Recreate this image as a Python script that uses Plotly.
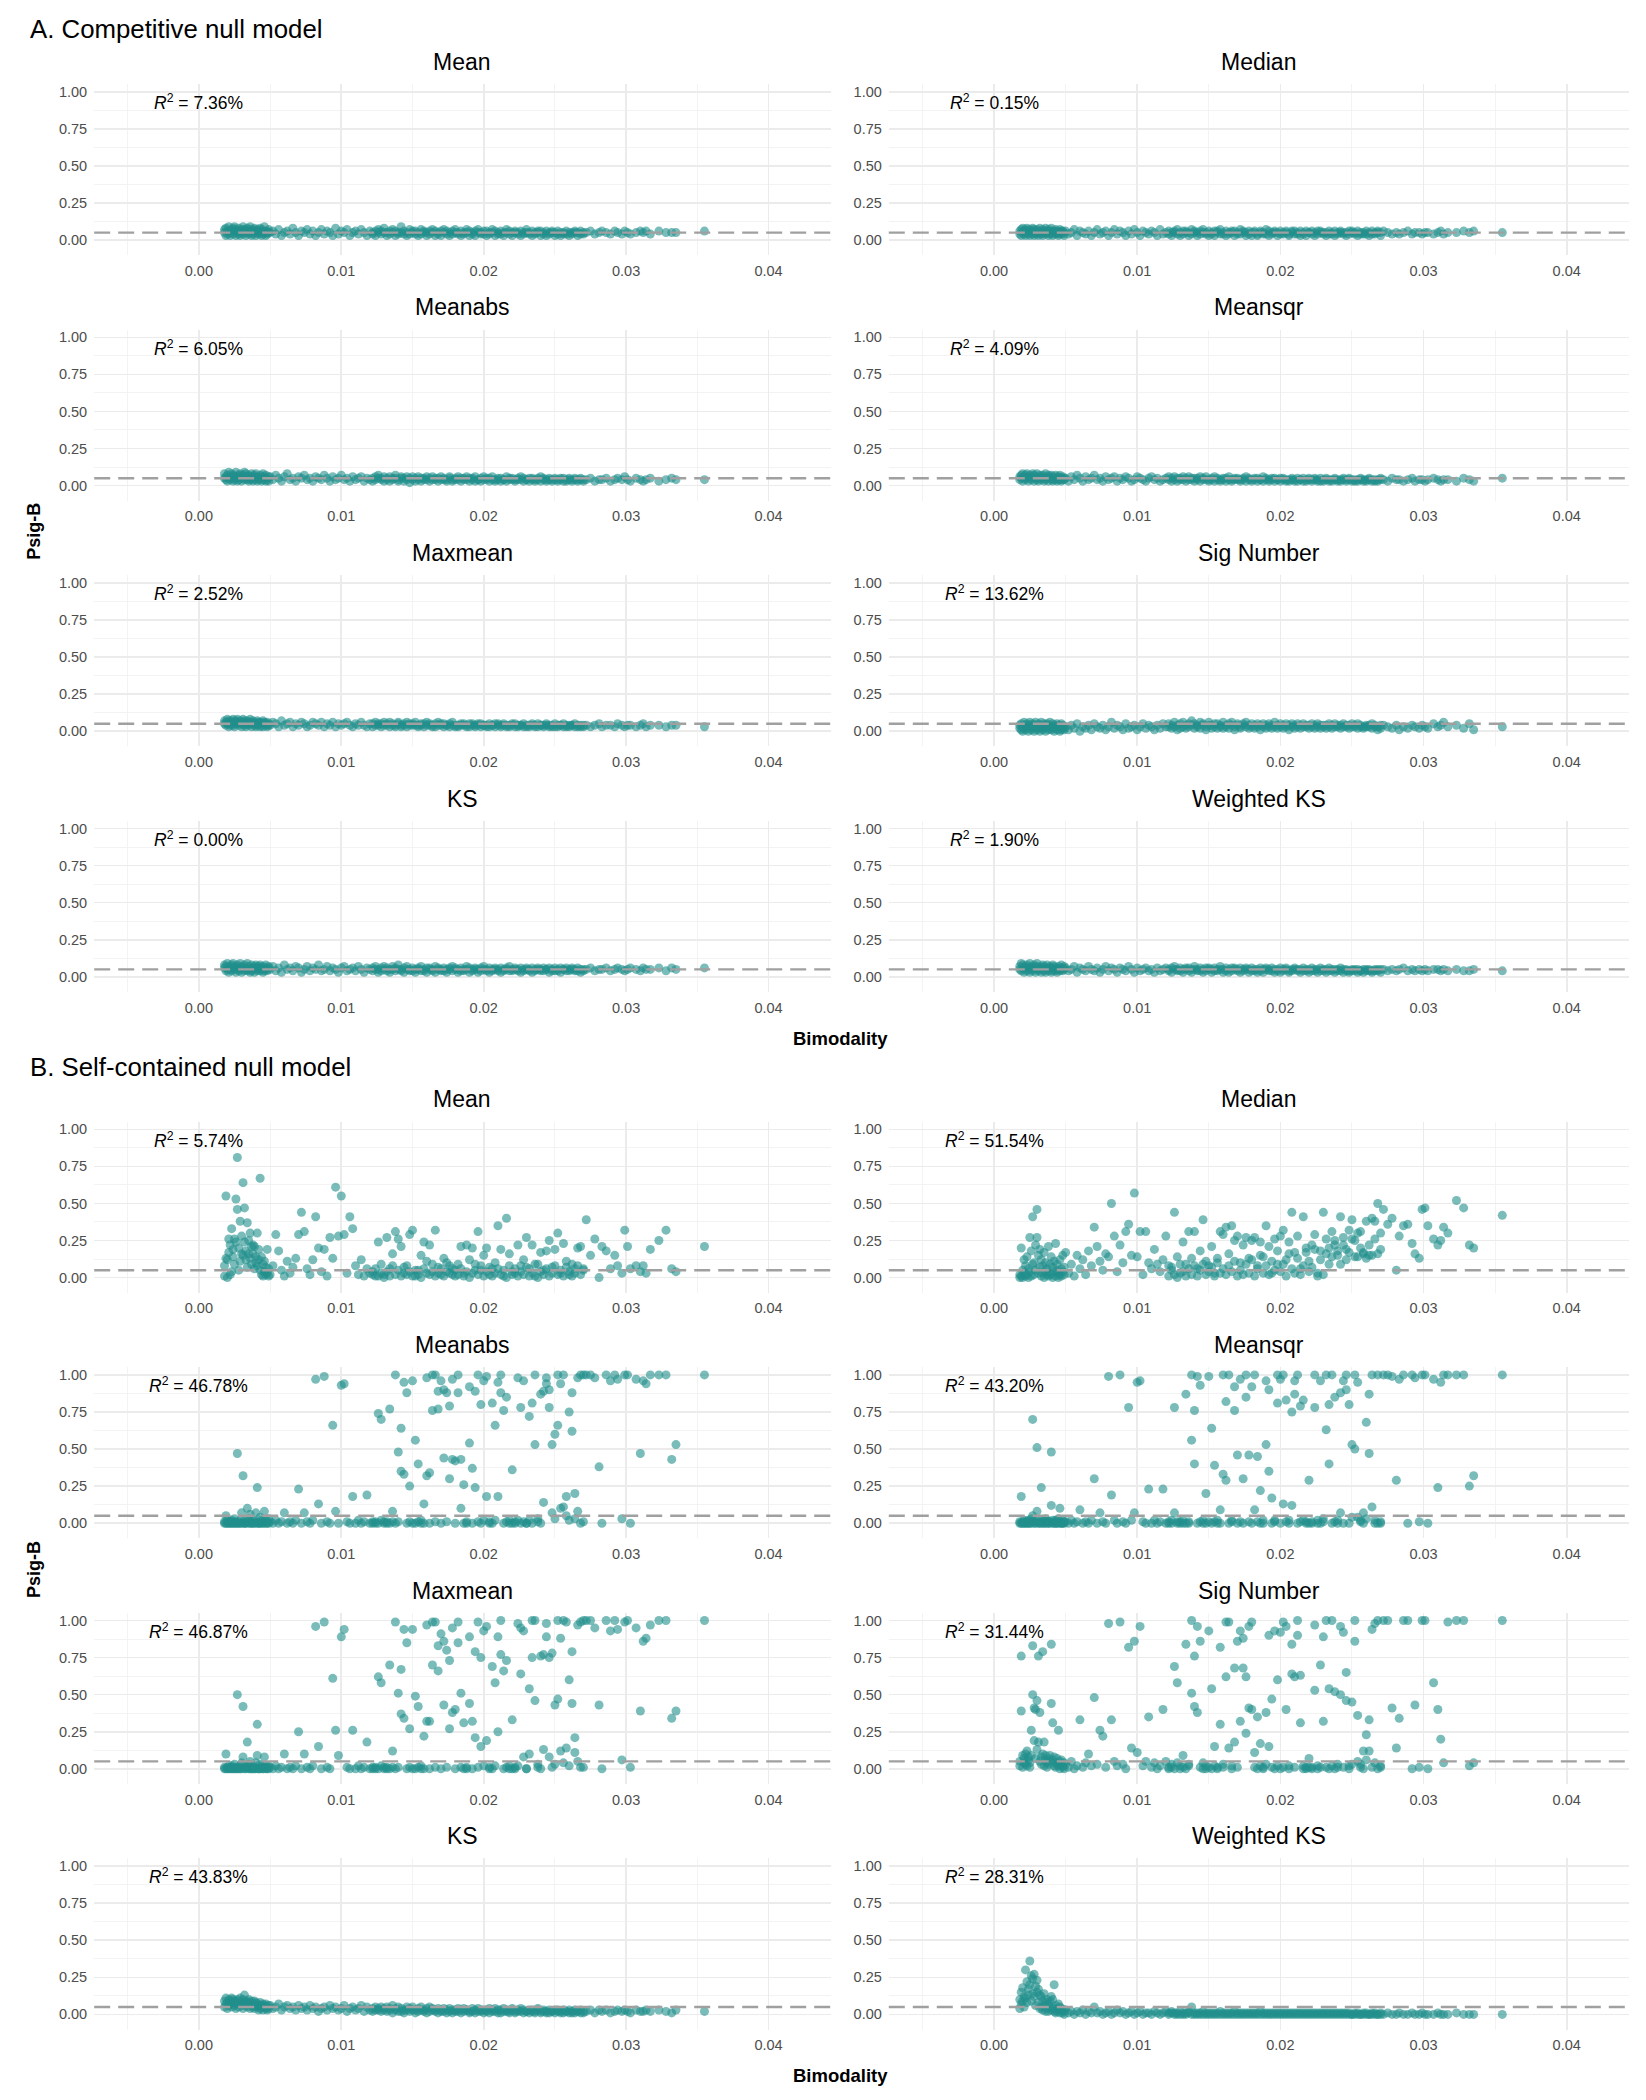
import sys
import plotly.graph_objects as go

# ---------------- DATA ----------------
# Bimodality of each gene set, in units of 1e-3 (shared by all panels)
bimodality_permille = [
    1.8, 1.8, 1.9, 1.9, 2.0, 2.0, 2.1, 2.1, 2.2, 2.2,
    2.3, 2.3, 2.4, 2.4, 2.5, 2.5, 2.6, 2.6, 2.7, 2.7,
    2.8, 2.8, 2.9, 2.9, 3.0, 3.0, 3.1, 3.1, 3.2, 3.2,
    3.3, 3.3, 3.4, 3.4, 3.5, 3.5, 3.6, 3.6, 3.7, 3.7,
    3.8, 3.8, 3.9, 3.9, 4.0, 4.0, 4.1, 4.1, 4.2, 4.2,
    4.3, 4.3, 4.4, 4.4, 4.5, 4.5, 4.6, 4.6, 4.7, 4.7,
    4.8, 4.8, 4.9, 4.9,
    5.0, 5.2, 5.4, 5.6, 5.8, 6.0, 6.2, 6.4, 6.6, 6.8,
    7.0, 7.2, 7.4, 7.6, 7.8, 8.0, 8.2, 8.4, 8.6, 8.8,
    9.0, 9.2, 9.4, 9.6, 9.8, 10.0, 10.2, 10.4, 10.6, 10.8,
    11.0, 11.2, 11.4, 11.6, 11.8, 12.0,
    12.2, 12.2, 12.4, 12.4, 12.6, 12.6, 12.8, 12.8, 13.0, 13.0,
    13.2, 13.2, 13.4, 13.4, 13.6, 13.6, 13.8, 13.8, 14.0, 14.0,
    14.2, 14.2, 14.4, 14.4, 14.6, 14.6, 14.8, 14.8, 15.0, 15.0,
    15.2, 15.2, 15.4, 15.4, 15.6, 15.6, 15.8, 15.8, 16.0, 16.0,
    16.2, 16.2, 16.4, 16.4, 16.6, 16.6, 16.8, 16.8, 17.0, 17.0,
    17.2, 17.2, 17.4, 17.4, 17.6, 17.6, 17.8, 17.8, 18.0, 18.0,
    18.2, 18.2, 18.4, 18.4, 18.6, 18.6, 18.8, 18.8, 19.0, 19.0,
    19.2, 19.2, 19.4, 19.4, 19.6, 19.6, 19.8, 19.8, 20.0, 20.0,
    20.2, 20.2, 20.4, 20.4, 20.6, 20.6, 20.8, 20.8, 21.0, 21.0,
    21.2, 21.2, 21.4, 21.4, 21.6, 21.6, 21.8, 21.8, 22.0, 22.0,
    22.2, 22.2, 22.4, 22.4, 22.6, 22.6, 22.8, 22.8, 23.0, 23.0,
    23.2, 23.2, 23.4, 23.4, 23.6, 23.6, 23.8, 23.8, 24.0, 24.0,
    24.2, 24.2, 24.4, 24.4, 24.6, 24.6, 24.8, 24.8, 25.0, 25.0,
    25.2, 25.2, 25.4, 25.4, 25.6, 25.6, 25.8, 25.8, 26.0, 26.0,
    26.2, 26.2, 26.4, 26.4, 26.6, 26.6, 26.8, 26.8, 27.0, 27.0,
    27.2, 27.5, 27.8, 28.1, 28.3, 28.6, 28.9, 29.2, 29.4, 29.7,
    29.9, 30.1, 30.3, 30.7, 31.0, 31.2, 31.4, 31.7, 32.3, 32.8,
    33.2, 33.5, 35.5,
]

# Psig-B values, in percent, one list per panel
# ----- A. Competitive null model -----
psig_A_mean = [
    5, 7, 3, 8, 6, 4, 9, 5, 6, 3,
    7, 5, 8, 4, 6, 9, 3, 7, 5, 6,
    4, 8, 6, 3, 7, 5, 9, 4, 6, 7,
    5, 3, 8, 6, 4, 7, 5, 9, 6, 3,
    7, 4, 6, 8, 5, 3, 7, 6, 4, 5,
    8, 6, 3, 7, 5, 4, 6, 9, 5, 3,
    6, 4, 7, 5,
    5, 6, 4, 7, 3, 5, 6, 4, 8, 5,
    3, 6, 5, 7, 4, 6, 3, 5, 7, 4,
    6, 5, 3, 8, 4, 6, 5, 7, 3, 5,
    6, 4, 7, 5, 3, 6,
    5, 4, 6, 3, 7, 5, 4, 6, 5, 8,
    3, 5, 6, 4, 5, 7, 3, 6, 4, 5,
    9, 5, 4, 6, 3, 5, 7, 4, 6, 5,
    4, 6, 3, 5, 7, 4, 5, 6, 3, 5,
    6, 4, 5, 7, 3, 6, 4, 5, 6, 3,
    5, 7, 4, 6, 5, 3, 6, 4, 7, 5,
    4, 5, 3, 6, 5, 4, 7, 5, 3, 6,
    5, 4, 6, 3, 5, 7, 4, 5, 6, 4,
    3, 6, 5, 4, 7, 5, 3, 6, 4, 5,
    6, 4, 5, 3, 7, 5, 4, 6, 5, 3,
    5, 6, 4, 5, 3, 6, 5, 4, 7, 5,
    4, 5, 6, 3, 5, 4, 6, 5, 3, 6,
    5, 4, 3, 6, 5, 4, 5, 6, 3, 5,
    4, 6, 5, 3, 4, 5, 6, 4, 5, 3,
    5, 4, 6, 5, 3, 5, 4, 6, 5, 4,
    5, 6, 4, 5, 6, 5, 4, 6, 5, 4,
    6, 5, 4, 5, 6, 5, 6, 4, 6, 5,
    5, 5, 6,
]
psig_A_median = [
    6, 4, 7, 3, 5, 8, 4, 6, 3, 7,
    5, 8, 4, 6, 7, 3, 5, 6, 4, 8,
    7, 3, 5, 6, 4, 7, 5, 3, 8, 6,
    4, 5, 7, 3, 6, 5, 8, 4, 5, 6,
    3, 7, 5, 4, 6, 8, 5, 3, 6, 4,
    7, 5, 4, 6, 3, 5, 7, 4, 6, 5,
    4, 6, 5, 3,
    6, 4, 5, 7, 3, 6, 5, 4, 6, 3,
    5, 7, 4, 5, 6, 3, 5, 7, 4, 6,
    5, 3, 6, 4, 7, 5, 3, 6, 5, 4,
    6, 5, 3, 7, 4, 5,
    4, 6, 5, 3, 6, 5, 4, 7, 5, 3,
    6, 4, 5, 6, 3, 5, 7, 4, 5, 6,
    3, 5, 4, 6, 5, 7, 4, 5, 3, 6,
    5, 4, 6, 3, 5, 6, 4, 7, 5, 4,
    6, 3, 5, 4, 6, 5, 3, 6, 4, 5,
    7, 4, 5, 6, 3, 5, 4, 6, 5, 3,
    6, 5, 4, 3, 6, 5, 4, 5, 7, 4,
    3, 6, 5, 4, 5, 6, 3, 5, 4, 6,
    5, 4, 6, 5, 3, 4, 6, 5, 4, 6,
    4, 5, 3, 6, 5, 4, 6, 3, 5, 5,
    6, 4, 5, 3, 6, 4, 5, 6, 4, 5,
    3, 5, 4, 6, 5, 4, 3, 6, 5, 4,
    5, 6, 4, 5, 3, 5, 6, 4, 5, 6,
    4, 5, 3, 6, 4, 5, 5, 4, 6, 4,
    5, 3, 6, 4, 5, 4, 6, 5, 3, 5,
    6, 5, 4, 5, 4, 5, 6, 4, 5, 5,
    4, 5, 5, 4, 5, 6, 4, 5, 5, 6,
    5, 6, 5,
]
psig_A_meanabs = [
    5, 8, 4, 6, 7, 3, 9, 5, 6, 4,
    8, 5, 3, 7, 6, 4, 9, 6, 5, 3,
    7, 4, 8, 6, 5, 3, 7, 5, 9, 4,
    6, 8, 4, 5, 3, 7, 6, 4, 8, 5,
    3, 6, 7, 4, 5, 8, 3, 6, 5, 4,
    7, 5, 3, 6, 8, 4, 5, 6, 3, 7,
    5, 4, 6, 3,
    6, 4, 7, 5, 3, 6, 8, 4, 5, 3,
    6, 5, 7, 4, 5, 3, 6, 5, 4, 7,
    5, 3, 6, 4, 5, 7, 4, 5, 3, 6,
    4, 5, 6, 3, 5, 4,
    5, 3, 6, 4, 5, 7, 4, 5, 3, 6,
    4, 5, 6, 3, 5, 4, 7, 5, 3, 4,
    6, 5, 3, 5, 4, 6, 2, 5, 4, 6,
    3, 5, 4, 6, 5, 3, 4, 5, 6, 4,
    5, 3, 4, 6, 5, 4, 3, 5, 4, 6,
    4, 5, 3, 4, 6, 5, 4, 3, 5, 4,
    6, 4, 5, 3, 4, 5, 6, 4, 3, 5,
    4, 5, 3, 6, 4, 4, 5, 3, 4, 6,
    5, 4, 3, 5, 4, 6, 4, 3, 5, 4,
    3, 5, 4, 4, 6, 3, 5, 4, 4, 5,
    4, 3, 5, 4, 6, 4, 3, 5, 4, 4,
    5, 3, 4, 5, 4, 3, 5, 4, 6, 3,
    4, 5, 3, 4, 4, 5, 3, 4, 5, 4,
    3, 4, 5, 4, 3, 5, 4, 3, 4, 5,
    4, 3, 5, 4, 4, 3, 5, 4, 3, 4,
    4, 5, 3, 4, 4, 5, 3, 4, 5, 4,
    6, 4, 3, 5, 4, 3, 4, 5, 3, 4,
    5, 4, 4,
]
psig_A_meansqr = [
    6, 4, 7, 5, 8, 3, 6, 5, 4, 7,
    5, 8, 6, 3, 7, 5, 4, 6, 8, 5,
    3, 7, 5, 6, 4, 8, 5, 3, 6, 7,
    4, 5, 7, 6, 3, 5, 8, 4, 6, 5,
    7, 3, 5, 6, 4, 7, 5, 3, 6, 4,
    5, 7, 4, 3, 6, 5, 4, 7, 5, 3,
    6, 4, 5, 4,
    5, 3, 6, 4, 7, 5, 3, 6, 4, 5,
    7, 4, 5, 3, 6, 4, 5, 6, 3, 5,
    4, 6, 5, 3, 4, 6, 5, 4, 3, 5,
    6, 4, 5, 3, 4, 5,
    4, 6, 3, 5, 4, 6, 5, 3, 4, 5,
    6, 4, 3, 5, 4, 6, 5, 4, 3, 5,
    4, 5, 6, 3, 4, 5, 4, 6, 3, 4,
    5, 4, 3, 6, 4, 5, 3, 4, 5, 4,
    3, 5, 4, 6, 4, 3, 5, 4, 4, 5,
    3, 4, 5, 4, 6, 3, 4, 5, 4, 3,
    5, 4, 3, 5, 4, 4, 6, 3, 4, 5,
    4, 3, 5, 4, 3, 5, 4, 4, 3, 5,
    4, 5, 3, 4, 4, 3, 5, 4, 3, 4,
    5, 3, 4, 4, 3, 5, 4, 3, 4, 5,
    3, 4, 4, 5, 3, 4, 3, 5, 4, 3,
    4, 5, 3, 4, 4, 3, 5, 4, 3, 4,
    4, 3, 5, 4, 3, 4, 4, 5, 3, 4,
    3, 4, 4, 3, 5, 4, 3, 4, 4, 3,
    4, 5, 3, 4, 3, 4, 4, 3, 5, 4,
    4, 3, 5, 4, 4, 3, 4, 5, 3, 4,
    4, 3, 4, 5, 4, 3, 4, 4, 3, 5,
    4, 3, 5,
]
psig_A_maxmean = [
    5, 7, 4, 6, 8, 5, 3, 7, 6, 4,
    7, 5, 8, 4, 6, 3, 7, 5, 6, 8,
    4, 6, 5, 7, 3, 6, 8, 5, 4, 7,
    6, 3, 5, 7, 4, 6, 5, 8, 3, 6,
    5, 7, 4, 6, 3, 5, 7, 4, 6, 5,
    3, 6, 5, 4, 7, 3, 5, 6, 4, 5,
    6, 3, 5, 4,
    4, 6, 5, 3, 7, 4, 5, 6, 3, 5,
    4, 6, 5, 3, 4, 6, 5, 4, 6, 3,
    5, 4, 6, 3, 5, 4, 5, 6, 4, 3,
    5, 4, 6, 4, 3, 5,
    5, 3, 4, 6, 4, 5, 3, 5, 6, 4,
    4, 5, 3, 6, 4, 5, 4, 3, 5, 6,
    3, 4, 5, 4, 6, 3, 5, 4, 4, 5,
    4, 6, 3, 4, 5, 4, 3, 5, 4, 6,
    5, 4, 3, 4, 5, 3, 6, 4, 4, 5,
    3, 5, 4, 4, 3, 5, 4, 6, 3, 4,
    4, 3, 5, 4, 4, 5, 3, 4, 5, 3,
    5, 4, 3, 4, 5, 4, 3, 5, 4, 4,
    3, 4, 5, 3, 4, 4, 5, 3, 4, 5,
    4, 3, 4, 5, 3, 4, 4, 3, 5, 4,
    3, 5, 4, 3, 4, 4, 3, 5, 4, 3,
    4, 3, 5, 4, 3, 4, 5, 3, 4, 4,
    3, 4, 4, 5, 3, 4, 3, 4, 5, 3,
    4, 3, 4, 4, 3, 5, 4, 3, 4, 3,
    4, 4, 3, 5, 3, 4, 3, 4, 4, 3,
    4, 3, 4, 5, 3, 4, 4, 3, 5, 4,
    3, 4, 4, 3, 4, 5, 3, 4, 4, 3,
    4, 4, 3,
]
psig_A_signum = [
    2, 4, 1, 5, 3, 0, 6, 2, 4, 1,
    3, 5, 2, 0, 4, 6, 1, 3, 5, 2,
    0, 4, 3, 6, 1, 2, 5, 3, 0, 4,
    2, 6, 1, 3, 5, 2, 4, 0, 3, 5,
    1, 4, 2, 6, 3, 1, 5, 2, 4, 0,
    3, 2, 5, 1, 4, 3, 0, 2, 5, 1,
    3, 4, 2, 1,
    3, 1, 4, 2, 5, 0, 3, 2, 4, 1,
    5, 3, 2, 4, 1, 3, 6, 2, 4, 3,
    1, 5, 2, 3, 4, 1, 3, 5, 2, 4,
    3, 1, 4, 2, 5, 3,
    3, 5, 2, 4, 6, 3, 1, 4, 5, 2,
    3, 6, 4, 2, 5, 3, 7, 4, 2, 5,
    3, 4, 6, 2, 4, 5, 3, 1, 4, 6,
    2, 4, 5, 3, 2, 5, 4, 3, 6, 2,
    4, 3, 5, 2, 4, 6, 3, 1, 4, 5,
    3, 2, 5, 4, 3, 6, 2, 4, 3, 5,
    2, 4, 3, 5, 1, 4, 3, 5, 2, 4,
    3, 5, 2, 4, 3, 6, 2, 4, 5, 3,
    4, 2, 5, 3, 1, 4, 3, 5, 2, 4,
    3, 5, 4, 2, 3, 5, 4, 3, 2, 4,
    5, 3, 2, 4, 3, 5, 2, 4, 3, 4,
    2, 4, 5, 3, 4, 2, 3, 5, 4, 3,
    4, 2, 3, 5, 4, 3, 2, 4, 3, 5,
    3, 4, 2, 5, 3, 4, 3, 2, 4, 3,
    4, 3, 5, 2, 3, 4, 1, 3, 4, 2,
    4, 3, 2, 4, 1, 3, 2, 4, 3, 2,
    4, 3, 2, 5, 3, 4, 6, 3, 4, 2,
    5, 1, 3,
]
psig_A_ks = [
    6, 8, 4, 7, 5, 9, 3, 6, 7, 5,
    8, 4, 6, 9, 5, 7, 3, 6, 8, 5,
    4, 7, 6, 9, 5, 3, 7, 6, 4, 8,
    5, 6, 9, 4, 7, 5, 3, 6, 8, 4,
    6, 5, 7, 3, 8, 6, 4, 5, 7, 6,
    4, 8, 5, 6, 3, 7, 5, 4, 6, 8,
    5, 4, 7, 6,
    5, 7, 4, 6, 3, 8, 5, 6, 4, 7,
    6, 3, 5, 7, 4, 6, 5, 8, 4, 5,
    7, 4, 6, 5, 3, 6, 7, 4, 5, 6,
    4, 7, 5, 3, 6, 5,
    6, 4, 5, 7, 3, 5, 6, 4, 7, 5,
    4, 6, 5, 3, 7, 5, 4, 6, 5, 8,
    4, 5, 6, 3, 5, 7, 4, 5, 6, 4,
    5, 3, 6, 5, 4, 7, 5, 4, 6, 3,
    5, 6, 4, 5, 7, 3, 5, 6, 4, 5,
    6, 4, 5, 3, 6, 5, 7, 4, 5, 6,
    3, 5, 4, 6, 5, 4, 7, 5, 3, 6,
    5, 4, 6, 5, 3, 5, 6, 4, 5, 7,
    4, 5, 3, 6, 5, 4, 6, 5, 4, 5,
    6, 3, 5, 4, 6, 5, 4, 7, 5, 4,
    5, 6, 4, 5, 3, 6, 5, 4, 6, 5,
    4, 5, 6, 3, 5, 4, 6, 5, 4, 5,
    6, 4, 5, 5, 3, 6, 4, 5, 6, 4,
    5, 4, 6, 3, 5, 5, 4, 6, 5, 4,
    5, 6, 4, 5, 4, 6, 3, 5, 5, 4,
    5, 6, 4, 5, 5, 6, 4, 5, 6, 5,
    4, 5, 6, 5, 4, 6, 5, 5, 6, 4,
    6, 5, 6,
]
psig_A_wks = [
    7, 5, 9, 4, 6, 8, 5, 3, 7, 6,
    4, 8, 6, 5, 9, 3, 7, 5, 6, 4,
    8, 6, 3, 7, 5, 9, 4, 6, 5, 7,
    3, 6, 8, 5, 4, 7, 6, 3, 5, 8,
    6, 4, 7, 5, 3, 6, 8, 4, 5, 7,
    4, 6, 5, 3, 7, 5, 6, 4, 8, 5,
    6, 4, 5, 7,
    6, 4, 5, 7, 3, 6, 5, 4, 7, 5,
    4, 6, 3, 5, 7, 4, 6, 5, 3, 6,
    5, 4, 7, 5, 3, 6, 4, 5, 6, 4,
    5, 3, 6, 4, 5, 6,
    5, 4, 6, 3, 5, 7, 4, 5, 6, 4,
    5, 3, 6, 5, 4, 6, 5, 3, 5, 7,
    4, 5, 6, 4, 3, 5, 6, 4, 5, 6,
    3, 5, 4, 6, 5, 4, 7, 5, 3, 5,
    6, 4, 5, 3, 6, 4, 5, 6, 4, 5,
    3, 6, 5, 4, 5, 6, 3, 5, 4, 6,
    5, 4, 3, 5, 6, 4, 5, 3, 6, 5,
    4, 5, 6, 4, 3, 5, 5, 4, 6, 3,
    5, 4, 5, 6, 4, 3, 5, 4, 6, 5,
    4, 5, 3, 5, 6, 4, 5, 4, 3, 5,
    6, 4, 5, 4, 3, 5, 6, 4, 5, 4,
    3, 5, 4, 6, 4, 5, 3, 5, 4, 5,
    4, 6, 3, 5, 4, 5, 4, 3, 5, 4,
    5, 4, 3, 5, 4, 4, 5, 3, 5, 4,
    4, 5, 4, 3, 5, 4, 4, 5, 3, 5,
    5, 4, 5, 4, 5, 6, 4, 5, 4, 5,
    4, 5, 4, 5, 5, 4, 5, 4, 5, 4,
    4, 5, 4,
]

# ----- B. Self-contained null model -----
psig_B_mean = [
    8, 1, 55, 13, 12, 0, 26, 17, 2, 22,
    33, 4, 14, 19, 26, 9, 53, 24, 81, 46,
    20, 5, 38, 11, 28, 16, 64, 15, 47, 24,
    18, 12, 37, 7, 25, 16, 13, 30, 9, 21,
    16, 22, 21, 6, 10, 14, 30, 8, 12, 19,
    67, 5, 14, 2, 9, 1, 11, 4, 7, 2,
    19, 3, 6, 1,
    2, 8, 29, 18, 5, 1, 11, 3, 7, 13,
    29, 44, 31, 6, 2, 12, 41, 20, 4, 19,
    1, 27, 13, 61, 28, 55, 29, 3, 41, 33,
    8, 2, 12, 1, 6, 3,
    4, 2, 1, 6, 24, 1, 9, 3, 2, 0,
    27, 4, 6, 1, 16, 8, 31, 2, 26, 5,
    21, 1, 3, 7, 8, 2, 29, 4, 32, 1,
    1, 5, 5, 2, 15, 0, 24, 6, 11, 3,
    22, 2, 4, 9, 32, 1, 7, 3, 2, 6,
    13, 1, 10, 4, 3, 8, 6, 2, 1, 5,
    9, 2, 21, 6, 3, 1, 22, 4, 12, 0,
    20, 3, 5, 9, 31, 2, 8, 5, 15, 1,
    20, 4, 2, 7, 6, 1, 10, 3, 35, 6,
    19, 2, 1, 5, 40, 0, 16, 8, 4, 2,
    3, 6, 22, 1, 8, 4, 12, 2, 27, 7,
    6, 1, 22, 3, 1, 9, 9, 0, 17, 4,
    5, 2, 18, 6, 25, 1, 7, 3, 19, 8,
    30, 2, 3, 5, 23, 1, 11, 7, 2, 4,
    9, 1, 6, 3, 20, 8, 21, 2, 5, 6,
    39, 15, 26, 0, 21, 18, 6, 15, 8, 3,
    32, 21, 6, 8, 4, 8, 3, 19, 25, 32,
    6, 4, 21,
]
psig_B_median = [
    2, 0, 20, 1, 5, 0, 12, 3, 8, 1,
    14, 2, 6, 0, 27, 4, 18, 1, 41, 9,
    10, 2, 22, 5, 46, 27, 15, 3, 19, 7,
    12, 1, 8, 3, 17, 0, 10, 4, 6, 2,
    21, 1, 9, 3, 14, 2, 7, 0, 11, 4,
    23, 1, 5, 9, 3, 0, 12, 2, 6, 1,
    4, 15, 2, 7,
    17, 3, 9, 1, 15, 6, 12, 2, 18, 8,
    34, 21, 11, 5, 16, 14, 50, 28, 4, 22,
    10, 31, 36, 15, 57, 14, 31, 2, 31, 10,
    6, 19, 9, 4, 12, 28,
    8, 1, 5, 7, 44, 2, 14, 0, 3, 9,
    24, 4, 9, 1, 31, 6, 13, 2, 31, 8,
    6, 1, 18, 5, 39, 9, 11, 2, 8, 4,
    21, 7, 3, 1, 13, 10, 31, 3, 29, 6,
    34, 2, 16, 8, 35, 4, 25, 11, 28, 1,
    10, 5, 22, 2, 27, 9, 13, 3, 25, 12,
    27, 1, 8, 6, 24, 15, 14, 3, 35, 8,
    21, 2, 3, 11, 26, 5, 9, 18, 28, 4,
    32, 9, 12, 1, 24, 16, 44, 6, 17, 3,
    28, 13, 6, 2, 41, 8, 20, 17, 11, 4,
    22, 7, 29, 19, 3, 1, 18, 12, 44, 2,
    26, 16, 9, 20, 31, 14, 22, 25, 15, 18,
    41, 9, 27, 22, 19, 12, 32, 17, 39, 26,
    25, 14, 14, 30, 31, 20, 17, 16, 38, 13,
    22, 15, 15, 40, 38, 26, 50, 16, 19, 30,
    46, 36, 40, 5, 28, 35, 36, 23, 16, 13,
    46, 47, 35, 26, 22, 25, 34, 30, 52, 47,
    22, 20, 42,
]
psig_B_meanabs = [
    0, 1, 5, 0, 0, 2, 1, 0, 0, 1,
    0, 2, 1, 0, 3, 0, 0, 1, 47, 0,
    1, 0, 0, 2, 7, 0, 32, 1, 0, 0,
    2, 0, 10, 1, 0, 3, 6, 0, 1, 0,
    0, 2, 1, 0, 7, 0, 24, 1, 0, 0,
    4, 0, 1, 2, 0, 0, 8, 1, 0, 2,
    0, 1, 3, 0,
    1, 0, 2, 0, 1, 7, 0, 1, 0, 2,
    23, 0, 7, 1, 0, 2, 97, 13, 0, 99,
    1, 0, 66, 8, 0, 93, 94, 1, 0, 18,
    0, 2, 0, 1, 19, 0,
    0, 1, 1, 0, 74, 0, 70, 2, 0, 1,
    1, 0, 77, 0, 8, 1, 100, 0, 48, 1,
    64, 35, 95, 33, 88, 0, 25, 1, 96, 0,
    56, 0, 40, 1, 0, 2, 13, 0, 32, 98,
    34, 0, 76, 100, 100, 1, 77, 89, 96, 0,
    44, 90, 88, 1, 79, 30, 97, 43, 42, 0,
    100, 88, 10, 43, 26, 0, 1, 0, 92, 54,
    37, 0, 89, 24, 100, 1, 80, 0, 96, 2,
    18, 99, 0, 1, 81, 0, 66, 2, 95, 18,
    88, 100, 76, 0, 85, 1, 0, 2, 36, 0,
    1, 0, 98, 2, 78, 0, 96, 1, 0, 0,
    72, 2, 81, 0, 53, 100, 1, 3, 87, 0,
    89, 14, 98, 94, 90, 78, 53, 7, 60, 3,
    66, 100, 94, 10, 100, 11, 18, 5, 75, 2,
    88, 62, 20, 3, 98, 8, 0, 100, 100, 1,
    100, 100, 98, 38, 0, 100, 96, 100, 97, 3,
    100, 100, 0, 97, 47, 96, 94, 100, 100, 100,
    43, 53, 100,
]
psig_B_meansqr = [
    0, 1, 18, 0, 1, 0, 0, 2, 1, 0,
    0, 1, 2, 0, 1, 0, 0, 3, 70, 5,
    1, 0, 0, 2, 51, 8, 1, 0, 0, 1,
    24, 0, 1, 2, 0, 0, 3, 1, 0, 2,
    1, 0, 0, 1, 48, 12, 2, 0, 1, 0,
    0, 2, 1, 0, 3, 0, 10, 1, 0, 0,
    2, 0, 1, 0,
    1, 0, 2, 0, 1, 9, 0, 1, 0, 2,
    30, 0, 7, 1, 0, 99, 19, 2, 0, 100,
    1, 0, 78, 2, 7, 95, 96, 1, 0, 23,
    0, 2, 0, 1, 23, 0,
    0, 1, 2, 0, 78, 7, 0, 1, 1, 0,
    0, 2, 87, 0, 1, 0, 100, 56, 76, 40,
    99, 0, 93, 1, 0, 2, 20, 0, 99, 1,
    64, 0, 39, 1, 0, 2, 9, 0, 33, 100,
    82, 29, 100, 0, 1, 2, 76, 92, 46, 0,
    97, 1, 30, 0, 85, 100, 46, 1, 92, 0,
    100, 9, 45, 1, 22, 0, 2, 0, 53, 96,
    35, 90, 17, 0, 1, 2, 100, 81, 97, 0,
    13, 100, 83, 1, 0, 2, 75, 12, 87, 96,
    100, 0, 79, 1, 83, 2, 0, 1, 29, 0,
    1, 0, 78, 100, 0, 2, 96, 0, 1, 3,
    100, 63, 80, 40, 100, 0, 85, 1, 2, 0,
    88, 7, 96, 0, 100, 90, 80, 0, 53, 4,
    50, 100, 95, 4, 2, 1, 7, 0, 68, 3,
    87, 47, 100, 11, 0, 2, 0, 100, 1, 0,
    100, 100, 99, 29, 97, 100, 0, 100, 98, 1,
    100, 100, 0, 97, 24, 95, 100, 100, 100, 100,
    25, 32, 100,
]
psig_B_maxmean = [
    0, 1, 10, 0, 1, 0, 0, 2, 1, 0,
    0, 2, 1, 0, 3, 0, 0, 1, 50, 0,
    1, 0, 0, 2, 4, 0, 42, 8, 0, 1,
    2, 0, 18, 1, 0, 3, 5, 0, 1, 0,
    0, 2, 1, 0, 4, 0, 30, 9, 0, 0,
    3, 0, 1, 2, 0, 0, 8, 1, 0, 2,
    0, 1, 2, 0,
    1, 0, 2, 0, 1, 10, 0, 1, 0, 2,
    25, 0, 10, 1, 0, 2, 96, 15, 0, 99,
    1, 0, 61, 26, 9, 89, 94, 1, 0, 26,
    0, 2, 0, 1, 18, 0,
    0, 1, 1, 0, 62, 0, 58, 2, 0, 1,
    1, 0, 70, 0, 12, 1, 99, 0, 51, 1,
    67, 37, 94, 34, 85, 0, 27, 1, 94, 0,
    49, 0, 42, 1, 0, 2, 22, 0, 32, 97,
    32, 0, 70, 99, 99, 1, 66, 83, 91, 0,
    43, 86, 80, 1, 73, 27, 95, 38, 40, 0,
    99, 85, 51, 1, 31, 0, 1, 0, 89, 44,
    32, 0, 79, 21, 99, 1, 75, 15, 93, 2,
    19, 96, 0, 1, 69, 0, 58, 2, 89, 25,
    77, 100, 66, 0, 73, 1, 0, 2, 33, 0,
    1, 0, 98, 2, 64, 95, 93, 8, 0, 0,
    54, 10, 100, 75, 46, 100, 1, 3, 76, 0,
    77, 13, 98, 89, 75, 8, 78, 1, 43, 3,
    47, 100, 88, 12, 100, 4, 99, 14, 60, 2,
    79, 44, 11, 21, 97, 5, 1, 99, 100, 1,
    100, 100, 95, 43, 0, 100, 93, 100, 94, 6,
    99, 100, 1, 95, 39, 86, 88, 97, 100, 100,
    34, 39, 100,
]
psig_B_signum = [
    2, 5, 76, 39, 9, 1, 4, 7, 3, 10,
    12, 2, 6, 8, 4, 1, 9, 26, 83, 50,
    41, 19, 40, 7, 46, 13, 76, 18, 38, 5,
    8, 3, 79, 10, 18, 2, 6, 9, 4, 1,
    7, 3, 5, 9, 84, 44, 31, 6, 2, 8,
    4, 1, 7, 3, 26, 2, 5, 0, 3, 6,
    2, 1, 4, 0,
    3, 1, 5, 0, 2, 33, 1, 4, 10, 2,
    48, 3, 26, 22, 1, 98, 33, 5, 2, 99,
    3, 0, 82, 14, 86, 11, 96, 2, 5, 35,
    1, 4, 0, 2, 40, 5,
    1, 0, 3, 1, 69, 0, 58, 4, 2, 0,
    9, 1, 84, 0, 3, 2, 100, 51, 76, 42,
    38, 96, 86, 1, 0, 4, 2, 0, 93, 1,
    54, 0, 15, 2, 1, 0, 82, 30, 3, 1,
    62, 99, 14, 99, 2, 0, 68, 18, 86, 1,
    32, 93, 68, 88, 62, 24, 96, 41, 40, 99,
    11, 1, 35, 0, 17, 2, 1, 0, 38, 3,
    90, 15, 47, 1, 93, 0, 60, 2, 92, 0,
    99, 1, 96, 40, 0, 2, 84, 64, 62, 1,
    100, 90, 63, 31, 0, 2, 1, 0, 7, 1,
    1, 0, 97, 53, 2, 0, 70, 1, 89, 32,
    100, 1, 54, 0, 100, 2, 52, 0, 3, 1,
    50, 96, 92, 1, 46, 65, 0, 2, 45, 3,
    100, 86, 36, 5, 1, 3, 12, 0, 23, 6,
    33, 12, 94, 1, 98, 4, 100, 0, 1, 2,
    100, 100, 41, 14, 34, 100, 100, 0, 43, 1,
    100, 100, 0, 58, 40, 20, 4, 99, 100, 100,
    2, 4, 100,
]
psig_B_ks = [
    5, 9, 7, 11, 8, 4, 10, 6, 9, 7,
    11, 5, 8, 10, 6, 9, 4, 8, 7, 10,
    9, 5, 11, 7, 6, 8, 10, 4, 13, 7,
    6, 9, 8, 5, 10, 7, 4, 8, 6, 9,
    7, 5, 9, 4, 6, 8, 5, 7, 3, 6,
    8, 4, 6, 5, 7, 3, 6, 5, 4, 7,
    5, 3, 6, 4,
    6, 4, 5, 7, 3, 5, 6, 4, 5, 3,
    6, 4, 5, 3, 6, 4, 5, 2, 4, 5,
    3, 6, 4, 5, 3, 4, 6, 2, 4, 5,
    3, 4, 6, 2, 5, 3,
    4, 2, 5, 3, 3, 4, 2, 5, 4, 3,
    5, 2, 3, 4, 6, 1, 3, 4, 5, 2,
    2, 4, 3, 1, 5, 3, 4, 2, 3, 5,
    1, 3, 4, 2, 3, 5, 2, 3, 4, 1,
    5, 2, 3, 4, 2, 3, 4, 1, 3, 2,
    2, 4, 3, 1, 4, 2, 1, 3, 3, 2,
    2, 4, 3, 1, 4, 2, 3, 3, 1, 2,
    4, 2, 3, 1, 2, 4, 3, 2, 1, 3,
    2, 3, 4, 1, 3, 2, 2, 4, 3, 1,
    1, 3, 2, 4, 3, 2, 1, 2, 4, 3,
    2, 1, 3, 2, 2, 4, 1, 3, 2, 2,
    3, 1, 2, 3, 1, 2, 3, 4, 2, 1,
    2, 3, 1, 2, 3, 1, 2, 2, 1, 3,
    3, 2, 2, 1, 1, 3, 2, 2, 3, 1,
    2, 1, 1, 3, 2, 2, 3, 1, 1, 2,
    2, 3, 1, 3, 2, 3, 1, 2, 3, 2,
    3, 2, 1, 3, 2, 2, 3, 2, 3, 2,
    1, 3, 2,
]
psig_B_wks = [
    10, 4, 15, 7, 18, 9, 12, 5, 30, 11,
    22, 8, 17, 13, 36, 20, 26, 9, 24, 14,
    27, 12, 19, 6, 23, 15, 17, 8, 13, 4,
    12, 5, 9, 3, 14, 6, 8, 2, 10, 4,
    7, 2, 5, 9, 12, 3, 10, 4, 20, 2,
    6, 1, 4, 2, 7, 3, 5, 1, 3, 4,
    2, 1, 3, 0,
    3, 1, 2, 0, 2, 1, 3, 0, 2, 1,
    5, 1, 2, 0, 1, 2, 0, 1, 3, 1,
    2, 0, 1, 2, 0, 1, 2, 0, 1, 1,
    0, 2, 1, 0, 1, 2,
    1, 0, 2, 1, 0, 1, 1, 0, 2, 0,
    1, 0, 0, 1, 1, 2, 5, 0, 1, 0,
    0, 1, 1, 0, 2, 0, 0, 1, 1, 0,
    0, 1, 1, 0, 0, 1, 2, 0, 0, 1,
    1, 0, 0, 1, 1, 0, 0, 2, 1, 0,
    0, 1, 1, 0, 0, 1, 1, 0, 0, 1,
    1, 0, 0, 1, 2, 0, 0, 1, 1, 0,
    0, 1, 1, 0, 0, 1, 1, 0, 0, 1,
    1, 0, 0, 1, 1, 0, 0, 1, 1, 0,
    0, 1, 1, 0, 0, 1, 1, 0, 0, 1,
    1, 0, 0, 1, 1, 0, 0, 1, 1, 0,
    0, 1, 1, 0, 0, 1, 1, 0, 0, 1,
    1, 0, 0, 1, 1, 0, 0, 1, 0, 0,
    0, 1, 1, 0, 0, 0, 1, 0, 0, 1,
    0, 0, 1, 0, 0, 1, 0, 0, 1, 0,
    0, 1, 0, 0, 1, 0, 0, 1, 0, 0,
    1, 0, 0, 0, 1, 0, 0, 0, 1, 0,
    0, 0, 0,
]

panel_names = ["Mean", "Median", "Meanabs", "Meansqr",
               "Maxmean", "Sig Number", "KS", "Weighted KS"]
r2_A = ["7.36%", "0.15%", "6.05%", "4.09%", "2.52%", "13.62%", "0.00%", "1.90%"]
r2_B = ["5.74%", "51.54%", "46.78%", "43.20%", "46.87%", "31.44%", "43.83%", "28.31%"]
psig_A = [psig_A_mean, psig_A_median, psig_A_meanabs, psig_A_meansqr,
          psig_A_maxmean, psig_A_signum, psig_A_ks, psig_A_wks]
psig_B = [psig_B_mean, psig_B_median, psig_B_meanabs, psig_B_meansqr,
          psig_B_maxmean, psig_B_signum, psig_B_ks, psig_B_wks]
section_titles = ["A. Competitive null model", "B. Self-contained null model"]
x_ticks = [0.0, 0.01, 0.02, 0.03, 0.04]
y_ticks = [0.0, 0.25, 0.5, 0.75, 1.0]
sig_level = 0.05

for name, lst in zip(panel_names * 2, psig_A + psig_B):
    if len(lst) != len(bimodality_permille):
        print("length mismatch", name, len(lst), len(bimodality_permille), file=sys.stderr)

# ---------------- LAYOUT ----------------
W, H = 1646, 2100
FONT = "Liberation Sans, Arial, Helvetica, sans-serif"
PT_COLOR = "#21908C"
col_px = [(94.2, 830.5), (888.8, 1629.0)]
row1_px = [91.7, 1129.3]      # pixel of y=1.00 in first row of each section
row_step = 245.6
unit_px = 148.3
y_lo, y_hi = -0.1025, 1.0525
x_lo, x_hi = -0.00735, 0.04435

x_vals = [v / 1000.0 for v in bimodality_permille]

fig = go.Figure()
layout = dict(
    width=W, height=H, autosize=False,
    margin=dict(l=0, r=0, t=0, b=0),
    paper_bgcolor="white", plot_bgcolor="white",
    font=dict(family=FONT, color="black"),
    showlegend=False,
)
annotations = []
shapes = []

for sec in range(2):
    data_sets = psig_A if sec == 0 else psig_B
    r2s = r2_A if sec == 0 else r2_B
    for j in range(8):
        k = sec * 8 + j
        n = k + 1
        r, c = j // 2, j % 2
        xa = "x" if n == 1 else f"x{n}"
        ya = "y" if n == 1 else f"y{n}"
        xkey = "xaxis" if n == 1 else f"xaxis{n}"
        ykey = "yaxis" if n == 1 else f"yaxis{n}"
        y1 = row1_px[sec] + r * row_step
        top = y1 - (y_hi - 1.0) * unit_px
        bottom = y1 + (1.0 - y_lo) * unit_px
        x0p, x1p = col_px[c]

        layout[xkey] = dict(
            domain=[x0p / W, x1p / W], range=[x_lo, x_hi], anchor=ya,
            tickmode="array", tickvals=x_ticks,
            ticktext=[f"{v:.2f}" for v in x_ticks],
            showgrid=True, gridcolor="#EBEBEB", gridwidth=1.6,
            minor=dict(tickmode="array", tickvals=[-0.005, 0.005, 0.015, 0.025, 0.035],
                       showgrid=True, gridcolor="#F2F2F2", gridwidth=0.9),
            zeroline=False, showline=False, ticks="",
            tickfont=dict(size=14.5, color="#4D4D4D", family=FONT),
            ticklabelstandoff=5, fixedrange=True,
        )
        layout[ykey] = dict(
            domain=[1 - bottom / H, 1 - top / H], range=[y_lo, y_hi], anchor=xa,
            tickmode="array", tickvals=y_ticks,
            ticktext=[f"{v:.2f}" for v in y_ticks],
            showgrid=True, gridcolor="#EBEBEB", gridwidth=1.6,
            minor=dict(tickmode="array", tickvals=[0.125, 0.375, 0.625, 0.875],
                       showgrid=True, gridcolor="#F2F2F2", gridwidth=0.9),
            zeroline=False, showline=False, ticks="",
            tickfont=dict(size=14.5, color="#4D4D4D", family=FONT),
            ticklabelstandoff=6, fixedrange=True,
        )

        fig.add_trace(go.Scatter(
            x=x_vals, y=[v / 100.0 for v in data_sets[j]],
            mode="markers", xaxis=xa, yaxis=ya,
            marker=dict(color=PT_COLOR, size=9, opacity=0.6, line=dict(width=0)),
            hoverinfo="skip", showlegend=False,
        ))

        shapes.append(dict(
            type="line", xref=f"{xa} domain", x0=0, x1=1, yref=ya,
            y0=sig_level, y1=sig_level, layer="above",
            line=dict(color="#A0A0A0", width=2.4, dash="16px,8px"),
        ))

        annotations.append(dict(
            xref="paper", yref="paper", x=(x0p + x1p) / 2 / W, y=1 - (y1 - 30) / H,
            text=panel_names[j], showarrow=False, xanchor="center", yanchor="middle",
            font=dict(size=23, color="black", family=FONT),
        ))
        annotations.append(dict(
            xref=xa, yref=ya, x=0.0, y=0.93,
            text=f"<i>R</i><sup>2</sup> = {r2s[j]}", showarrow=False,
            xanchor="center", yanchor="middle",
            font=dict(size=17.5, color="black", family=FONT),
        ))

# Section titles and axis titles
for sec, (ty, psig_y, bim_y) in enumerate([(29.0, 531.7, 1038.3), (1066.5, 1570.0, 2075.0)]):
    annotations.append(dict(
        xref="paper", yref="paper", x=28 / W, y=1 - ty / H,
        text=section_titles[sec], showarrow=False, xanchor="left", yanchor="middle",
        font=dict(size=25.8, color="black", family=FONT),
    ))
    annotations.append(dict(
        xref="paper", yref="paper", x=34 / W, y=1 - psig_y / H,
        text="<b>Psig-B</b>", showarrow=False, textangle=-90,
        xanchor="center", yanchor="middle",
        font=dict(size=18, color="black", family=FONT),
    ))
    annotations.append(dict(
        xref="paper", yref="paper", x=840 / W, y=1 - bim_y / H,
        text="<b>Bimodality</b>", showarrow=False,
        xanchor="center", yanchor="middle",
        font=dict(size=18.5, color="black", family=FONT),
    ))

layout["annotations"] = annotations
layout["shapes"] = shapes
fig.update_layout(**layout)
fig.write_html("out.html",
               config={"displayModeBar": False, "staticPlot": True},
               post_script="document.body.style.margin='0';document.body.style.padding='0';")
